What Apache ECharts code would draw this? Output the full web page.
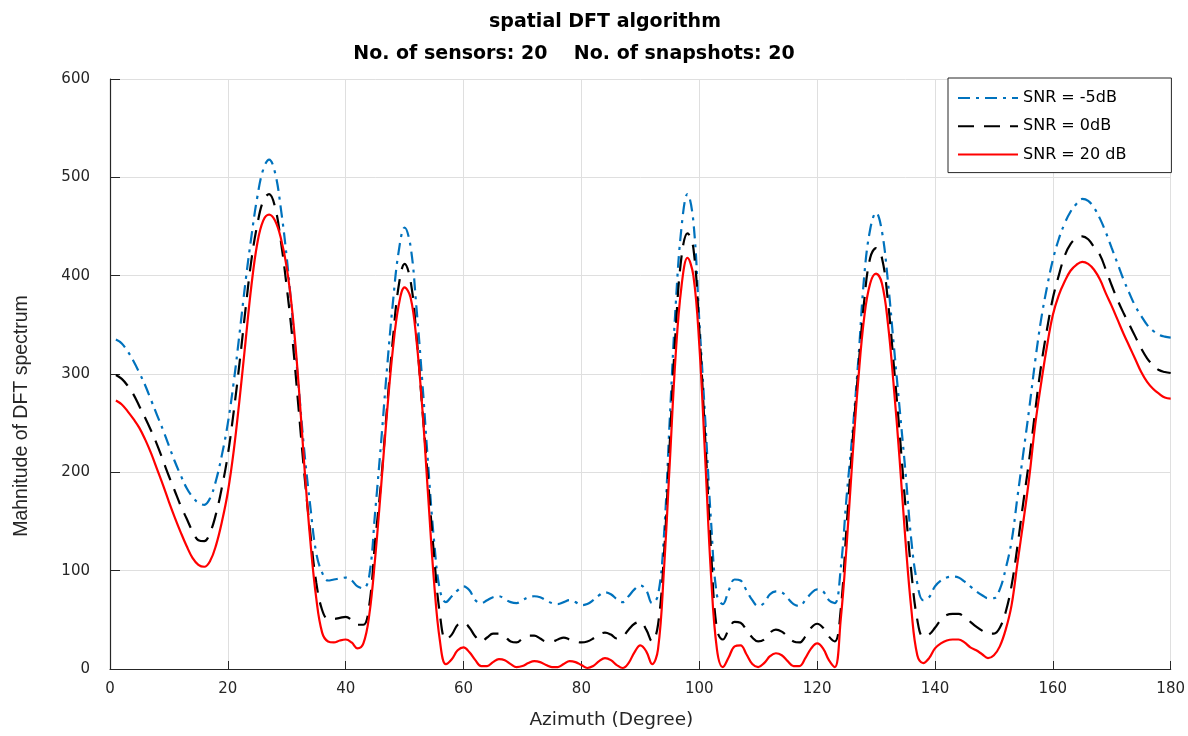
<!DOCTYPE html>
<html>
<head>
<meta charset="utf-8">
<title>spatial DFT algorithm</title>
<script src="https://cdn.jsdelivr.net/npm/echarts@6/dist/echarts.min.js"></script>
<style>
  html, body { margin: 0; padding: 0; background: #ffffff; }
  #chart { width: 1188px; height: 736px; }
</style>
</head>
<body>
<div id="chart"></div>
<script>
// Scan angles in degrees
const azimuth = [
  1,2,3,4,5,6,7,8,9,10,11,12,13,14,15,16,17,18,19,20,
  21,22,23,24,25,26,27,28,29,30,31,32,33,34,35,36,37,38,39,40,
  41,42,43,44,45,46,47,48,49,50,51,52,53,54,55,56,57,58,59,60,
  61,62,63,64,65,66,67,68,69,70,71,72,73,74,75,76,77,78,79,80,
  81,82,83,84,85,86,87,88,89,90,91,92,93,94,95,96,97,98,99,100,
  101,102,103,104,105,106,107,108,109,110,111,112,113,114,115,116,117,118,119,120,
  121,122,123,124,125,126,127,128,129,130,131,132,133,134,135,136,137,138,139,140,
  141,142,143,144,145,146,147,148,149,150,151,152,153,154,155,156,157,158,159,160,
  161,162,163,164,165,166,167,168,169,170,171,172,173,174,175,176,177,178,179,180
];

// DFT spectrum magnitude, SNR = -5 dB
const snrMinus5 = [
  335,331,323,313,301,288,273,258,243,227,211,197,184,175,169,167,174,192,218,250,
  292,342,394,440,480,508,518,505,468,418,355,288,220,165,118,98,90,91,92,93,
  90,84,82,95,160,230,305,372,425,449,430,368,292,207,130,80,68,74,80,84,
  80,70,67,70,73,74,71,68,67,70,73,74,73,70,67,66,68,70,68,65,
  66,70,75,78,76,71,68,74,81,85,80,67,75,135,255,370,450,483,455,355,
  255,150,75,66,80,91,90,80,70,64,67,76,79,78,72,66,64,70,77,81,
  79,70,67,102,175,240,315,400,447,464,445,395,330,265,200,130,87,70,73,84,
  90,93,94,93,89,84,79,75,72,72,81,102,130,175,220,265,313,355,388,416,
  437,453,465,473,478,476,469,458,444,428,412,396,382,369,359,350,344,340,338,337
];

// DFT spectrum magnitude, SNR = 0 dB
const snr0 = [
  299,295,288,279,267,255,242,228,212,196,181,166,153,140,131,130,139,158,185,218,
  262,312,366,416,452,476,483,470,435,388,333,265,197,138,88,60,51,51,52,53,
  50,45,45,65,130,190,265,335,390,412,395,340,265,190,115,55,30,35,45,47,
  42,33,28,32,36,36,33,28,27,31,34,34,31,28,28,30,32,30,28,27,
  28,31,35,37,35,31,33,40,46,48,40,28,45,115,230,345,420,443,428,345,
  235,120,40,30,40,48,47,40,32,28,30,37,40,38,33,28,27,33,42,46,
  42,33,28,60,145,230,305,375,418,428,418,375,310,240,165,98,50,33,35,42,
  50,55,56,56,53,48,43,39,36,36,42,58,85,125,170,213,262,308,345,377,
  400,420,432,438,440,437,429,421,406,390,375,362,350,338,326,316,309,304,302,301
];

// DFT spectrum magnitude, SNR = 20 dB
const snr20 = [
  273,269,262,254,245,233,219,203,187,170,154,139,125,113,106,104,110,126,150,180,
  222,275,333,390,433,456,462,456,438,408,360,290,205,130,72,37,28,27,29,30,
  27,21,26,55,113,185,260,325,370,388,378,335,265,175,88,28,5,10,19,22,
  17,9,3,3,7,10,9,5,2,3,6,8,7,4,2,2,5,8,7,4,
  1,3,8,11,9,4,1,6,17,24,18,5,20,100,210,320,390,418,400,330,
  215,95,20,2,12,23,24,15,5,2,6,13,16,14,8,3,3,11,21,26,
  21,9,2,50,125,215,295,358,392,402,392,352,288,213,130,60,14,6,11,21,
  26,29,30,30,27,22,19,15,11,14,23,40,65,108,150,195,248,290,328,360,
  380,394,405,411,414,412,406,396,382,369,355,341,328,315,302,292,285,280,276,275
];

const seriesNames = ['SNR = -5dB', 'SNR = 0dB', 'SNR = 20 dB'];
const xTicks = [0, 20, 40, 60, 80, 100, 120, 140, 160, 180];
const yTicks = [0, 100, 200, 300, 400, 500, 600];

const toPairs = vals => azimuth.map((a, i) => [a, vals[i]]);

const axisColor = '#262626';
const gridColor = '#dfdfdf';
const wideFont = 'DejaVu Sans';

const chart = echarts.init(document.getElementById('chart'), null, { renderer: 'canvas' });

chart.setOption({
  backgroundColor: '#ffffff',
  animation: false,
  title: [
    {
      text: 'spatial DFT algorithm',
      left: 600, top: 8, textAlign: 'center',
      textStyle: { fontFamily: wideFont, fontWeight: 'bold', fontSize: 19, color: '#000000' }
    },
    {
      text: 'No. of sensors: 20    No. of snapshots: 20',
      left: 569, top: 40, textAlign: 'center',
      textStyle: { fontFamily: wideFont, fontWeight: 'bold', fontSize: 19, color: '#000000' }
    }
  ],
  grid: { left: 110, right: 15, top: 79, bottom: 67, containLabel: false },
  legend: {
    orient: 'vertical',
    left: 948, top: 78,
    padding: [12, 45, 10, 9],
    itemGap: 12.3,
    itemWidth: 60,
    itemHeight: 14,
    backgroundColor: '#ffffff',
    borderColor: axisColor,
    borderWidth: 1,
    borderRadius: 0,
    data: seriesNames,
    itemStyle: { opacity: 0 },
    textStyle: { fontFamily: wideFont, fontSize: 16, color: '#000000' }
  },
  xAxis: {
    type: 'value',
    min: 0, max: 180, interval: 20,
    name: 'Azimuth (Degree)',
    nameLocation: 'middle',
    nameGap: 42,
    nameTextStyle: { fontFamily: wideFont, fontSize: 18.5, color: axisColor, padding: [0, 58, 0, 0] },
    axisLine: { show: true, onZero: false, lineStyle: { color: axisColor, width: 1.2 } },
    axisTick: { show: true, inside: true, length: 8, lineStyle: { color: axisColor } },
    axisLabel: {
      margin: 13, fontFamily: wideFont, fontSize: 15, color: axisColor,
      formatter: v => (xTicks.includes(v) ? String(v) : '')
    },
    splitLine: { show: true, lineStyle: { color: gridColor, width: 1 } }
  },
  yAxis: {
    type: 'value',
    min: 0, max: 600, interval: 100,
    name: 'Mahnitude of DFT spectrum',
    nameLocation: 'middle',
    nameGap: 78,
    nameTextStyle: { fontFamily: 'Liberation Sans', fontSize: 19.5, color: axisColor, padding: [0, 84, 0, 0] },
    axisLine: { show: true, onZero: false, lineStyle: { color: axisColor, width: 1.2 } },
    axisTick: { show: true, inside: true, length: 10, lineStyle: { color: axisColor } },
    axisLabel: {
      margin: 20, fontFamily: wideFont, fontSize: 15, color: axisColor,
      formatter: v => (yTicks.includes(v) ? String(v) : '')
    },
    splitLine: { show: true, lineStyle: { color: gridColor, width: 1 } }
  },
  series: [
    {
      name: seriesNames[0],
      type: 'line',
      data: toPairs(snrMinus5),
      smooth: 0.4,
      symbol: 'none',
      z: 3,
      lineStyle: { color: '#0072bd', width: 2.2, type: [12, 6, 3, 6] },
      itemStyle: { color: '#0072bd' }
    },
    {
      name: seriesNames[1],
      type: 'line',
      data: toPairs(snr0),
      smooth: 0.4,
      symbol: 'none',
      z: 4,
      lineStyle: { color: '#000000', width: 2.2, type: [16, 10] },
      itemStyle: { color: '#000000' }
    },
    {
      name: seriesNames[2],
      type: 'line',
      data: toPairs(snr20),
      smooth: 0.4,
      symbol: 'none',
      z: 5,
      lineStyle: { color: '#ff0000', width: 2.2, type: 'solid' },
      itemStyle: { color: '#ff0000' }
    }
  ]
});
</script>
</body>
</html>
